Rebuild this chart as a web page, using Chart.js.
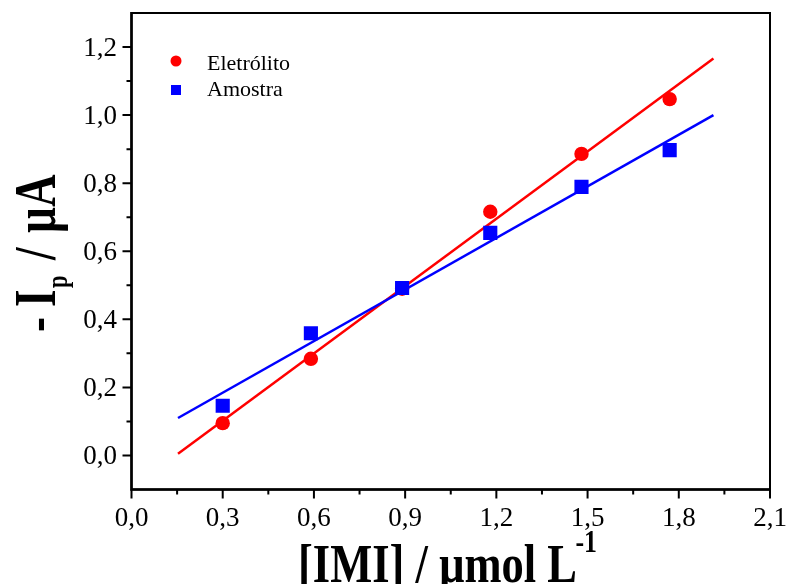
<!DOCTYPE html>
<html>
<head>
<meta charset="utf-8">
<script src="https://cdn.jsdelivr.net/npm/chart.js@4.4.1/dist/chart.umd.min.js"></script>
<style>
  html, body { margin: 0; padding: 0; background: #ffffff; }
  #wrap { width: 786px; height: 584px; position: relative; }
</style>
</head>
<body>
<div id="wrap"><canvas id="c" width="786" height="584"></canvas></div>
<script>
// ---- data ----
const concentrations = [0.30, 0.59, 0.89, 1.18, 1.48, 1.77];
const eletrolitoValues = [0.095, 0.284, 0.490, 0.716, 0.886, 1.047];
const amostraValues = [0.146, 0.359, 0.492, 0.654, 0.789, 0.897];
const fitX = [0.153, 1.914];
const eletrolitoFitY = [0.005, 1.166];
const amostraFitY = [0.110, 1.000];
const xTickValues = [0.0, 0.3, 0.6, 0.9, 1.2, 1.5, 1.8, 2.1];
const xMinorTickValues = [0.15, 0.45, 0.75, 1.05, 1.35, 1.65, 1.95];
const yTickValues = [0.0, 0.2, 0.4, 0.6, 0.8, 1.0, 1.2];
const yMinorTickValues = [0.1, 0.3, 0.5, 0.7, 0.9, 1.1];
const seriesNames = ['Eletrólito', 'Amostra'];

const toPts = (xs, ys) => xs.map((x, i) => ({ x: x, y: ys[i] }));
const fmt = v => v.toFixed(1).replace('.', ',');
const SERIF = '"Liberation Serif", "Times New Roman", serif';

const decorPlugin = {
  id: 'decor',
  afterDraw(chart) {
    const ctx = chart.ctx;
    const a = chart.chartArea;
    const xs = chart.scales.x, ys = chart.scales.y;
    ctx.save();
    // frame
    ctx.strokeStyle = '#000';
    ctx.lineWidth = 2;
    ctx.strokeRect(a.left, a.top, a.right - a.left, a.bottom - a.top);
    ctx.lineWidth = 2.5;
    ctx.beginPath();
    ctx.moveTo(a.left, a.top - 1); ctx.lineTo(a.left, a.bottom);
    ctx.lineTo(a.right + 1, a.bottom);
    ctx.stroke();
    // ticks
    ctx.lineWidth = 2;
    ctx.beginPath();
    xTickValues.forEach(v => { const p = xs.getPixelForValue(v); ctx.moveTo(p, a.bottom); ctx.lineTo(p, a.bottom + 9); });
    xMinorTickValues.forEach(v => { const p = xs.getPixelForValue(v); ctx.moveTo(p, a.bottom); ctx.lineTo(p, a.bottom + 5); });
    yTickValues.forEach(v => { const p = ys.getPixelForValue(v); ctx.moveTo(a.left, p); ctx.lineTo(a.left - 9, p); });
    yMinorTickValues.forEach(v => { const p = ys.getPixelForValue(v); ctx.moveTo(a.left, p); ctx.lineTo(a.left - 5, p); });
    ctx.stroke();
    // tick labels
    ctx.fillStyle = '#000';
    ctx.font = '27px ' + SERIF;
    ctx.textBaseline = 'alphabetic';
    ctx.textAlign = 'center';
    xTickValues.forEach(v => ctx.fillText(fmt(v), xs.getPixelForValue(v), 526));
    ctx.textAlign = 'right';
    yTickValues.forEach(v => ctx.fillText(fmt(v), 117, ys.getPixelForValue(v) + 9));

    // x title
    ctx.save();
    ctx.textAlign = 'left';
    ctx.font = 'bold 55px ' + SERIF;
    const mainX = '[IMI] / µmol L';
    const wMain = ctx.measureText(mainX).width;
    const sx = 279 / wMain;
    ctx.translate(298, 582);
    ctx.scale(sx, 1);
    ctx.fillText(mainX, 0, 0);
    ctx.font = 'bold 32px ' + SERIF;
    ctx.fillText('-1', wMain - 2, -30);
    ctx.restore();

    // y title (rotated)
    ctx.save();
    ctx.textAlign = 'left';
    ctx.translate(55, 332);
    ctx.rotate(-Math.PI / 2);
    ctx.scale(0.75, 1);
    const k = 1 / 0.75;
    ctx.font = 'bold 60px ' + SERIF;
    ctx.fillText('-', 0, 0);
    ctx.fillText('I', 25 * k, 0);
    ctx.font = 'bold 30px ' + SERIF;
    ctx.fillText('p', 44 * k, 12);
    ctx.font = 'bold 60px ' + SERIF;
    ctx.fillText('/', 72 * k, 0);
    ctx.fillText('µA', 99 * k, 0);
    ctx.restore();

    // legend
    ctx.fillStyle = '#ff0000';
    ctx.beginPath(); ctx.arc(176, 61, 5.5, 0, Math.PI * 2); ctx.fill();
    ctx.fillStyle = '#0000ff';
    ctx.fillRect(171, 85, 10, 10);
    ctx.fillStyle = '#000';
    ctx.font = '22px ' + SERIF;
    ctx.textAlign = 'left';
    ctx.fillText(seriesNames[0], 207, 70);
    ctx.fillText(seriesNames[1], 207, 96);
    ctx.restore();
  }
};

new Chart(document.getElementById('c'), {
  type: 'scatter',
  data: {
    datasets: [
      { label: seriesNames[1], data: toPts(concentrations, amostraValues), pointStyle: 'rect', pointRadius: 10, backgroundColor: '#0000ff', pointBorderWidth: 0, showLine: false },
      { label: seriesNames[0], data: toPts(concentrations, eletrolitoValues), pointStyle: 'circle', pointRadius: 7.2, backgroundColor: '#ff0000', pointBorderWidth: 0, showLine: false },
      { label: 'fit2', data: toPts(fitX, amostraFitY), showLine: true, borderColor: '#0000ff', borderWidth: 2.5, pointRadius: 0, fill: false },
      { label: 'fit1', data: toPts(fitX, eletrolitoFitY), showLine: true, borderColor: '#ff0000', borderWidth: 2.5, pointRadius: 0, fill: false }
    ]
  },
  options: {
    responsive: false,
    animation: false,
    devicePixelRatio: 1,
    layout: { padding: { left: 131.5, right: 16, top: 13, bottom: 94.5 } },
    plugins: { legend: { display: false }, tooltip: { enabled: false } },
    scales: {
      x: { type: 'linear', min: 0, max: 2.1, display: false },
      y: { type: 'linear', min: -0.1, max: 1.3, display: false }
    }
  },
  plugins: [decorPlugin]
});
</script>
</body>
</html>
